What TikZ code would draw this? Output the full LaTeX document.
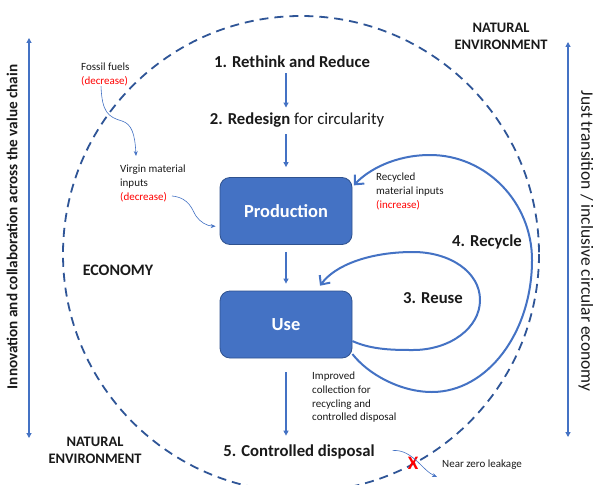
\documentclass[tikz,border=0pt]{standalone}
\usepackage{fontspec}
\setmainfont{Carlito}
\usetikzlibrary{arrows.meta,calc}
\definecolor{boxblue}{HTML}{4472C4}
\definecolor{boxedge}{HTML}{2F528F}
\definecolor{ringblue}{HTML}{2F5597}
\definecolor{alert}{HTML}{FF0000}
\definecolor{inktext}{HTML}{1A1A1A}

\begin{document}
\begin{tikzpicture}[x=1pt,y=-1pt,
  every node/.style={text=inktext},
  stage/.style={font=\fontsize{16.7}{18}\selectfont\bfseries, inner sep=0pt},
  region/.style={font=\fontsize{14.5}{17}\selectfont\bfseries, align=center, inner sep=0pt},
  stagebox/.style={draw=boxedge, line width=0.8pt, fill=boxblue, rounded corners=10pt,
    minimum width=132pt, minimum height=67pt, text=white,
    font=\fontsize{18.4}{20}\selectfont\bfseries},
  note/.style={font=\fontsize{11}{13.7}\selectfont, align=left, inner sep=0pt},
  flow/.style={draw=boxblue, line width=1.1pt, -{Triangle[length=5pt,width=5pt]}},
  bothways/.style={draw=boxblue, line width=1.1pt, {Triangle[length=5pt,width=5pt]}-{Triangle[length=5pt,width=5pt]}},
  cycle/.style={draw=boxblue, line width=2pt, -{Straight Barb[length=7pt,width=13pt]}},
  feed/.style={draw=boxblue, line width=0.6pt, -{Stealth[length=5pt,width=4pt]}},
  ring/.style={draw=ringblue, line width=1.8pt, dash pattern=on 9pt off 6pt}
]
\clip (0,0) rectangle (593,484);
\fill[white] (0,0) rectangle (593,484);

% boundary of the economy inside the natural environment
\draw[ring] (301,254) circle [radius=238];

% main stages
\node[stagebox] (prod) at (286,211) {Production};
\node[stagebox] (use) at (286,324.5) {Use};

\node[stage] (n1) at (292,62) {1. Rethink and Reduce};
\node[stage] (n2) at (297,120) {2. Redesign \mdseries for circularity};
\node[stage] (n5) at (299,452) {5. Controlled disposal};
\node[stage] (n4) at (487,242) {4. Recycle};
\node[stage] (n3) at (433,298) {3. Reuse};

\draw[flow, shorten <=5pt, shorten >=5pt] (n1.south -| prod) -- (n2.north -| prod);
\draw[flow, shorten <=7pt, shorten >=10pt] (n2.south -| prod) -- (prod.north);
\draw[flow, shorten <=7pt, shorten >=7pt] (prod) -- (use);
\draw[flow, shorten <=14pt, shorten >=9pt] (use.south) -- (n5.north -| use);

% reuse loop
\draw[cycle, shorten >=6pt] (use.-14) .. controls (372,350) and (395,350) .. (413,350)
  .. controls (450,350) and (480,328) .. (480,300)
  .. controls (480,272) and (450,252) .. (413,252)
  .. controls (370,252) and (335,265) .. (use.48);

% recycle loop
\draw[cycle, shorten >=2pt] (use.-24) .. controls (368,374) and (400,392) .. (432,392)
  .. controls (487,392) and (532,333) .. (532,260)
  .. controls (532,202) and (486,155) .. (430,155)
  .. controls (395,155) and (368,170) .. (prod.20);

% region labels
\node[region, font=\fontsize{16}{17}\selectfont\bfseries] (econ) at (118,270) {ECONOMY};
\node[region] (natTop) at (501,36) {NATURAL\\ENVIRONMENT};
\node[region] (natBot) at (95,450) {NATURAL\\ENVIRONMENT};

% side themes
\coordinate (lTop) at (29,38);
\coordinate (lBot) at (29,438);
\coordinate (rTop) at (568,42);
\coordinate (rBot) at (568,437);
\draw[bothways] (lTop) -- (lBot);
\draw[bothways] (rTop) -- (rBot);
\node[rotate=90, font=\fontsize{15.2}{17}\selectfont\bfseries, inner sep=0pt] (leftTheme) at (12,227)
  {Innovation and collaboration across the value chain};
\node[rotate=-90, font=\fontsize{17.5}{19}\selectfont, inner sep=0pt] (rightTheme) at (586,241)
  {Just transition / inclusive circular economy};

% material flow notes
\node[note, anchor=north west] (fossil) at (81,63) {Fossil fuels\\\textcolor{alert}{(decrease)}};
\node[note, anchor=north west] (virgin) at (120,165) {Virgin material\\inputs\\\textcolor{alert}{(decrease)}};
\node[note, anchor=north west] (recycled) at (376,173) {Recycled\\material inputs\\\textcolor{alert}{(increase)}};
\node[note, anchor=north west] (improved) at (312,372) {Improved\\collection for\\recycling and\\controlled disposal};
\node[note, anchor=west] (leak) at (442,465) {Near zero leakage};
\node[inner sep=0pt, text=alert, font=\fontsize{19}{20}\selectfont\bfseries] (cross) at (413,463) {X};

\draw[feed] ($(fossil.south west)+(20,0)$) .. controls (102,112) and (108,117) .. (122,121)
  .. controls (132,124) and (135,135) .. ($(virgin.north west)+(16,-9)$);
\draw[feed, shorten >=4pt] ($(virgin.south west)+(52,-6)$) .. controls (190,198) and (192,210) .. (196,216)
  .. controls (200,222) and (207,226) .. (prod.193);
\coordinate (leakEnd) at (437,477);
\draw[feed, shorten <=18pt] (n5.east) .. controls (412,449) and (422,470) .. (leakEnd);
\end{tikzpicture}
\end{document}
